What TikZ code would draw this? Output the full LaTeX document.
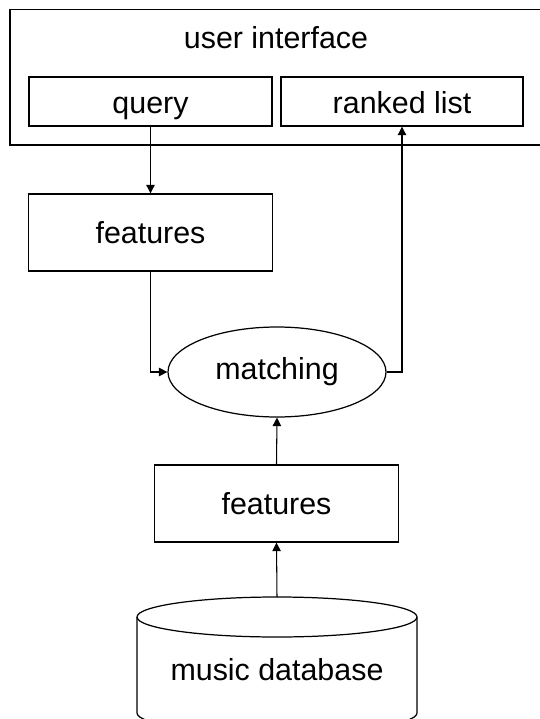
\documentclass[tikz,border=0pt]{standalone}
\usepackage{fontspec}
\setmainfont{Liberation Sans}
\usetikzlibrary{arrows.meta,shapes.geometric}
\begin{document}
\begin{tikzpicture}[
  font=\fontsize{17.3}{20}\selectfont,
  box/.style={draw, line width=0.8pt, inner sep=0pt, minimum height=0.98cm, text height=14pt, text depth=0pt},
  featbox/.style={draw, line width=0.8pt, inner sep=0pt, minimum width=4.88cm, minimum height=1.54cm},
  arr/.style={line width=0.6pt, -{Triangle[length=0.17cm, width=0.17cm]}}
]
% Fix the page size
\useasboundingbox (0, 0) rectangle (10.8, -14.38);

% Draw the user interface frame
\draw[line width=0.7pt] (10.8, -0.19) -- (0.2, -0.19) -- (0.2, -2.9) -- (10.8, -2.9);
\node[anchor=center] (ui) at (5.52, -0.76) {user interface};
\node[box, minimum width=4.86cm] (query) at (3.01, -2.03) {query};
\node[box, minimum width=4.84cm] (ranked) at (8.04, -2.03) {ranked list};

% Draw the features and the matching step
\node[featbox] (feat1) at (3.01, -4.65) {features};
\node[draw, ellipse, line width=0.7pt, inner sep=0pt, minimum width=4.36cm, minimum height=1.8cm] (match) at (5.54, -7.44) {matching};
\node[featbox] (feat2) at (5.53, -10.07) {features};

% Draw the music database cylinder
\draw[line width=0.7pt] (2.74, -12.34) -- (2.74, -14.26) arc[start angle=180, end angle=360, x radius=2.8, y radius=0.4] -- (8.34, -12.34);
\draw[line width=0.7pt] (5.54, -12.34) ellipse [x radius=2.8, y radius=0.4];
\coordinate (dbtop) at (5.54, -11.94);
\node (db) at (5.54, -13.4) {music database};

% Draw the arrows
\draw[arr] (query.south) -- (feat1.north);
\draw[arr] (feat1.south) |- (match.west);
\draw[arr] (match.east) -| (ranked.south);
\draw[arr] (feat2.north) -- (match.south);
\draw[arr] (dbtop) -- (feat2.south);
\end{tikzpicture}
\end{document}
